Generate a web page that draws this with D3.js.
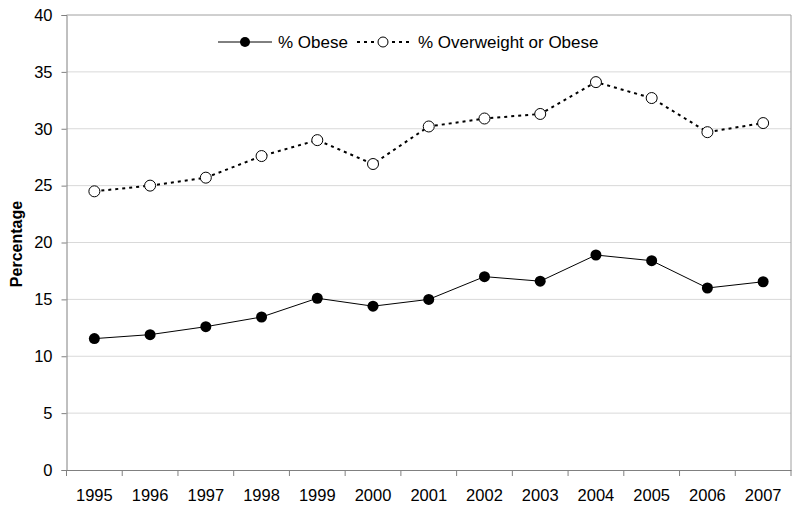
<!DOCTYPE html>
<html><head><meta charset="utf-8">
<script src="https://cdn.jsdelivr.net/npm/d3@7"></script>
<style>body{margin:0;background:#fff}svg{display:block;font-family:"Liberation Sans",Arial,sans-serif}</style>
</head><body><svg id="c" width="800" height="513"></svg>
<script>
const years = ["1995","1996","1997","1998","1999","2000","2001","2002","2003","2004","2005","2006","2007"];
const obese = [11.55,11.9,12.6,13.45,15.1,14.4,15.0,17.0,16.6,18.9,18.4,16.0,16.55];
const overweight = [24.5,25.0,25.7,27.6,29.0,26.9,30.2,30.9,31.3,34.1,32.7,29.7,30.5];
const yTicks = [0,5,10,15,20,25,30,35,40];
const seriesNames = ["% Obese","% Overweight or Obese"];

const svg = d3.select("#c");
const L=66.5, R=791, T=15, B=470;
const x = d3.scaleBand().domain(years).range([L,R]);
const y = d3.scaleLinear().domain([0,40]).range([B,T]);
const cx = d => x(d)+x.bandwidth()/2;

// gridlines
svg.append("g").selectAll("line").data(yTicks.filter(t=>t>0)).join("line")
  .attr("x1",L).attr("x2",R).attr("y1",d=>y(d)).attr("y2",d=>y(d))
  .attr("stroke",d=>d===40?"#a0a0a0":"#d9d9d9").attr("stroke-width",1);
// right border
svg.append("line").attr("x1",R).attr("x2",R).attr("y1",T).attr("y2",B).attr("stroke","#a0a0a0");

// y axis
const ya = svg.append("g").attr("transform",`translate(${L},0)`)
  .call(d3.axisLeft(y).tickValues(yTicks).tickSize(5).tickPadding(9));
ya.select(".domain").attr("stroke","#808080");
ya.selectAll(".tick line").attr("stroke","#808080");
ya.selectAll("text").attr("font-size",16.5).attr("fill","#000").attr("font-family","Liberation Sans, Arial, sans-serif");

// x axis
const xa = svg.append("g").attr("transform",`translate(0,${B})`)
  .call(d3.axisBottom(x).tickSize(0).tickPadding(19));
xa.select(".domain").attr("stroke","#808080");
xa.selectAll("text").attr("font-size",16.5).attr("fill","#000").attr("font-family","Liberation Sans, Arial, sans-serif");
// category boundary ticks
const bounds = years.map(d=>x(d)).concat([R]);
svg.append("g").selectAll("line").data(bounds).join("line")
  .attr("x1",d=>d).attr("x2",d=>d).attr("y1",B).attr("y2",B+6).attr("stroke","#808080");

// y label
svg.append("text").attr("transform","translate(22,244) rotate(-90)")
  .attr("text-anchor","middle").attr("font-weight","bold").attr("font-size",16).text("Percentage");

const line = d3.line().x((d,i)=>cx(years[i])).y(d=>y(d));
// overweight
svg.append("path").datum(overweight).attr("d",line).attr("fill","none")
  .attr("stroke","#000").attr("stroke-width",2).attr("stroke-dasharray","3,4");
svg.append("g").selectAll("circle").data(overweight).join("circle")
  .attr("cx",(d,i)=>cx(years[i])).attr("cy",d=>y(d)).attr("r",5.5)
  .attr("fill","#fff").attr("stroke","#000").attr("stroke-width",1);
// obese
svg.append("path").datum(obese).attr("d",line).attr("fill","none")
  .attr("stroke","#000").attr("stroke-width",1);
svg.append("g").selectAll("circle").data(obese).join("circle")
  .attr("cx",(d,i)=>cx(years[i])).attr("cy",d=>y(d)).attr("r",5.5).attr("fill","#000");

// legend
const lg = svg.append("g");
lg.append("line").attr("x1",218).attr("x2",272).attr("y1",42).attr("y2",42).attr("stroke","#000");
lg.append("circle").attr("cx",245).attr("cy",42).attr("r",5).attr("fill","#000");
lg.append("text").attr("x",278).attr("y",48).attr("font-size",17).text(seriesNames[0]);
lg.append("line").attr("x1",357).attr("x2",410).attr("y1",42).attr("y2",42).attr("stroke","#000")
  .attr("stroke-width",2).attr("stroke-dasharray","3,4");
lg.append("circle").attr("cx",383).attr("cy",42).attr("r",5).attr("fill","#fff").attr("stroke","#000");
lg.append("text").attr("x",418).attr("y",48).attr("font-size",17).text(seriesNames[1]);
</script></body></html>
